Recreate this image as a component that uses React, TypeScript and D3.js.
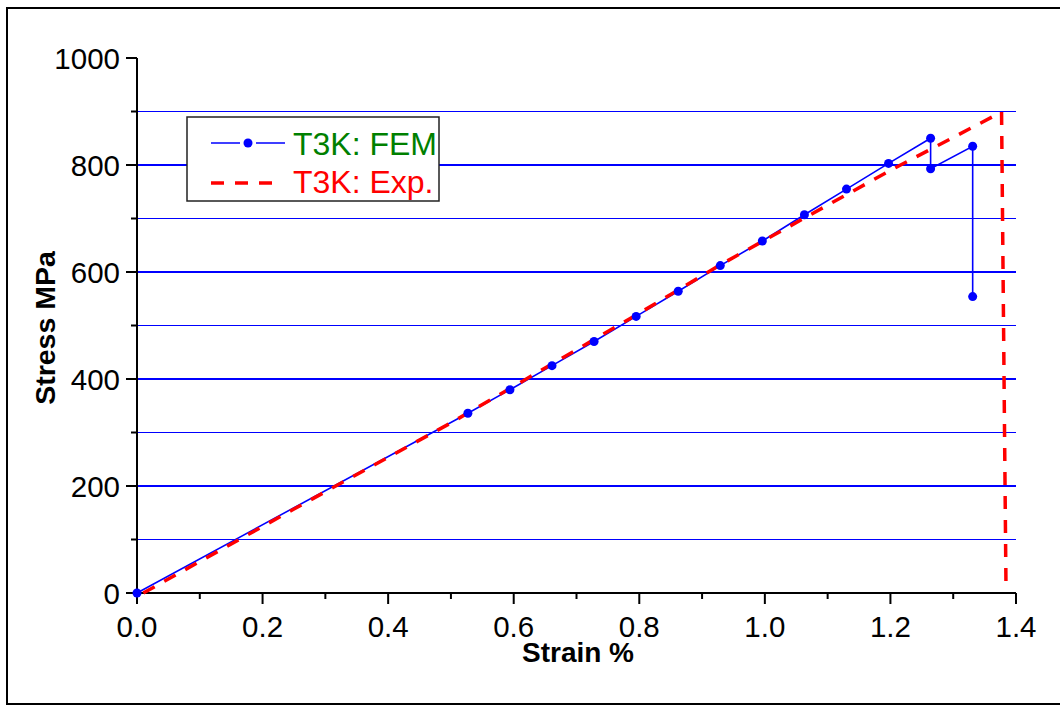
import { useEffect, useRef } from 'react'
import * as d3 from 'd3'

// FEM series (blue, dots)
const femStrain = [0, 0.527, 0.594, 0.661, 0.728, 0.795, 0.862, 0.929, 0.996, 1.063, 1.13, 1.197, 1.264, 1.264, 1.331, 1.331]
const femStress = [0, 336, 380, 425, 470, 517, 564, 612, 658, 707, 755, 803, 850, 793, 835, 554]

// experiment (red dashed)
const expStrain = [0.01, 0.25, 0.5, 0.8, 0.93, 1.1, 1.2, 1.377, 1.384]
const expStress = [0, 157, 318, 523, 614, 725, 790, 899, 20]

const xTicks = [0, 0.2, 0.4, 0.6, 0.8, 1.0, 1.2, 1.4]
const xMinor = [0.1, 0.3, 0.5, 0.7, 0.9, 1.1, 1.3]
const yTicks = [0, 200, 400, 600, 800, 1000]
const yMinor = [100, 300, 500, 700, 900]
const gridVals = [100, 200, 300, 400, 500, 600, 700, 800, 900]

const legendLabels = ['T3K: FEM', 'T3K: Exp.']

const App = () => {
  const ref = useRef(null)
  const width = 1060
  const height = 705

  useEffect(() => {
    if (!ref.current) return
    const svg = d3.select(ref.current)
    svg.selectAll('*').remove()

    const x = d3.scaleLinear().domain([0, 1.4]).range([137, 1016])
    const y = d3.scaleLinear().domain([0, 1000]).range([593, 58])
    const font = 'Arial, "Liberation Sans", sans-serif'

    // outer frame
    svg.append('rect')
      .attr('x', 7).attr('y', 8)
      .attr('width', 1070).attr('height', 696)
      .attr('fill', 'white')
      .attr('stroke', 'black')
      .attr('stroke-width', 2)

    // gridlines
    svg.selectAll('.grid')
      .data(gridVals).enter().append('line')
      .attr('x1', x(0)).attr('x2', x(1.4))
      .attr('y1', d => y(d)).attr('y2', d => y(d))
      .attr('stroke', '#0000ff')
      .attr('stroke-width', d => d % 200 === 0 ? 1.8 : 1.1)

    // axes
    const axes = svg.append('g').attr('stroke', 'black').attr('stroke-width', 2)
    axes.append('line').attr('x1', x(0)).attr('x2', x(1.4)).attr('y1', y(0)).attr('y2', y(0))
    axes.append('line').attr('x1', x(0)).attr('x2', x(0)).attr('y1', y(0)).attr('y2', y(1000))

    axes.selectAll('.xt').data(xTicks).enter().append('line')
      .attr('x1', d => x(d)).attr('x2', d => x(d))
      .attr('y1', y(0)).attr('y2', y(0) + 11)
    axes.selectAll('.xm').data(xMinor).enter().append('line')
      .attr('x1', d => x(d)).attr('x2', d => x(d))
      .attr('y1', y(0)).attr('y2', y(0) + 6)
    axes.selectAll('.yt').data(yTicks).enter().append('line')
      .attr('x1', x(0) - 11).attr('x2', x(0))
      .attr('y1', d => y(d)).attr('y2', d => y(d))
    axes.selectAll('.ym').data(yMinor).enter().append('line')
      .attr('x1', x(0) - 6).attr('x2', x(0))
      .attr('y1', d => y(d)).attr('y2', d => y(d))

    svg.selectAll('.xl').data(xTicks).enter().append('text')
      .text(d => d.toFixed(1))
      .attr('x', d => x(d)).attr('y', 637)
      .attr('text-anchor', 'middle')
      .style('font-family', font).style('font-size', '29.5px')

    svg.selectAll('.yl').data(yTicks).enter().append('text')
      .text(d => d)
      .attr('x', 120).attr('y', d => y(d)).attr('dy', '0.36em')
      .attr('text-anchor', 'end')
      .style('font-family', font).style('font-size', '29.5px')

    svg.append('text').text('Strain %')
      .attr('x', 578).attr('y', 662)
      .attr('text-anchor', 'middle')
      .style('font-family', font).style('font-size', '28px').style('font-weight', 'bold')

    svg.append('text').text('Stress MPa')
      .attr('transform', 'translate(55,328) rotate(-90)')
      .attr('text-anchor', 'middle')
      .style('font-family', font).style('font-size', '28.5px').style('font-weight', 'bold')

    // FEM line
    const femData = femStrain.map((s, i) => [s, femStress[i]])
    const line = d3.line().x(d => x(d[0])).y(d => y(d[1]))
    svg.append('path')
      .attr('d', line(femData))
      .attr('fill', 'none')
      .attr('stroke', '#0000ff')
      .attr('stroke-width', 1.6)

    // experiment line
    const expData = expStrain.map((s, i) => [s, expStress[i]])
    svg.append('path')
      .attr('d', line(expData))
      .attr('fill', 'none')
      .attr('stroke', '#ff0000')
      .attr('stroke-width', 3.5)
      .attr('stroke-dasharray', '13,11')

    svg.selectAll('.dot').data(femData).enter().append('circle')
      .attr('cx', d => x(d[0])).attr('cy', d => y(d[1]))
      .attr('r', 4.5)
      .attr('fill', '#0000ff')

    // legend
    const lg = svg.append('g')
    lg.append('rect')
      .attr('x', 187).attr('y', 117)
      .attr('width', 252).attr('height', 84)
      .attr('fill', 'white')
      .attr('stroke', '#222')
      .attr('stroke-width', 1.5)
    lg.append('line')
      .attr('x1', 211).attr('x2', 285).attr('y1', 143).attr('y2', 143)
      .attr('stroke', '#0000ff').attr('stroke-width', 1.6)
      .attr('stroke-dasharray', '29,16')
    lg.append('circle').attr('cx', 248).attr('cy', 143).attr('r', 4.5).attr('fill', '#0000ff')
    lg.append('line')
      .attr('x1', 211).attr('x2', 272).attr('y1', 183).attr('y2', 183)
      .attr('stroke', '#ff0000').attr('stroke-width', 3.5)
      .attr('stroke-dasharray', '13,11')
    lg.selectAll('.lt').data(legendLabels).enter().append('text')
      .text(d => d)
      .attr('x', 293).attr('y', (d, i) => 155 + i * 38)
      .attr('fill', (d, i) => i === 0 ? '#008000' : '#ff0000')
      .style('font-family', font).style('font-size', '32px')
  }, [])

  return (
    <svg
      ref={ref}
      width={width}
      height={height}
      style={{ position: 'absolute', left: 0, top: 0, display: 'block' }}
    />
  )
}

export default App
